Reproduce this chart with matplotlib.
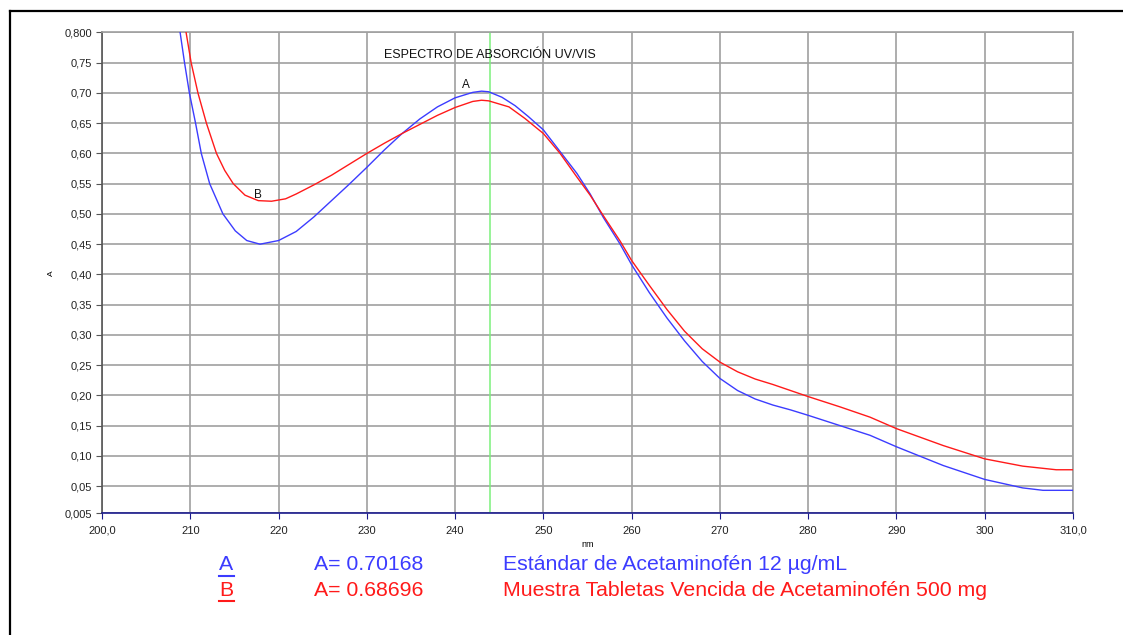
import matplotlib
matplotlib.use("Agg")
import matplotlib.pyplot as plt
from matplotlib.lines import Line2D

plt.rcParams['font.family'] = ['Liberation Sans', 'DejaVu Sans']

# ---- data ----
nm_a = [208.5, 208.8, 209.35, 209.9, 210.6, 211.25, 212.2, 213.7, 215.1, 216.4, 217.9,
        220.0, 222.0, 224.0, 226.0, 228.0, 230.0, 232.0, 234.0, 236.0, 238.0, 240.0,
        242.0, 243.0, 243.8, 245.3, 246.8, 248.3, 250.0, 251.9, 253.8, 255.3, 256.8,
        258.7, 260.0, 262.0, 264.0, 266.0, 268.0, 270.0, 272.0, 274.0, 276.0, 278.0,
        280.0, 283.6, 287.0, 290.0, 295.3, 300.0, 304.3, 306.6, 310.0]
abs_a = [0.83, 0.805, 0.75, 0.70, 0.65, 0.60, 0.55, 0.50, 0.472, 0.456, 0.450,
         0.456, 0.471, 0.495, 0.522, 0.549, 0.577, 0.606, 0.633, 0.657, 0.677, 0.692,
         0.701, 0.703, 0.702, 0.693, 0.679, 0.661, 0.639, 0.603, 0.567, 0.533, 0.494,
         0.450, 0.416, 0.370, 0.328, 0.290, 0.256, 0.228, 0.208, 0.194, 0.184, 0.176,
         0.167, 0.150, 0.134, 0.115, 0.084, 0.061, 0.047, 0.043, 0.043]

nm_b = [209.2, 209.47, 210.1, 210.87, 211.83, 212.97, 213.9, 214.87, 216.2, 217.7, 219.2,
        220.8, 222.0, 224.0, 226.0, 228.0, 230.0, 232.0, 234.0, 236.0, 238.0, 240.0,
        242.0, 243.0, 243.8, 246.1, 247.9, 250.0, 251.9, 253.8, 255.3, 256.8, 258.7,
        260.0, 262.0, 264.0, 266.0, 268.0, 270.0, 272.0, 274.0, 276.0, 278.0, 280.0,
        283.6, 287.0, 290.0, 295.3, 300.0, 304.3, 308.1, 310.0]
abs_b = [0.83, 0.805, 0.75, 0.70, 0.65, 0.60, 0.572, 0.55, 0.531, 0.522, 0.521,
         0.525, 0.533, 0.548, 0.564, 0.582, 0.600, 0.617, 0.633, 0.648, 0.663, 0.676,
         0.686, 0.688, 0.687, 0.677, 0.658, 0.633, 0.600, 0.561, 0.531, 0.497, 0.455,
         0.423, 0.382, 0.342, 0.306, 0.277, 0.255, 0.239, 0.227, 0.218, 0.208, 0.198,
         0.181, 0.164, 0.145, 0.117, 0.095, 0.083, 0.077, 0.077]

marker_nm = 244.0

x_ticks = [200, 210, 220, 230, 240, 250, 260, 270, 280, 290, 300, 310]
x_labels = ["200,0", "210", "220", "230", "240", "250", "260", "270", "280", "290", "300", "310,0"]
y_ticks = [0.005, 0.05, 0.10, 0.15, 0.20, 0.25, 0.30, 0.35, 0.40, 0.45, 0.50, 0.55,
           0.60, 0.65, 0.70, 0.75, 0.80]
y_labels = ["0,005", "0,05", "0,10", "0,15", "0,20", "0,25", "0,30", "0,35", "0,40", "0,45",
            "0,50", "0,55", "0,60", "0,65", "0,70", "0,75", "0,800"]

title = "ESPECTRO DE ABSORCIÓN UV/VIS"
legend_keys = ["A", "B"]
legend_values = ["A= 0.70168", "A= 0.68696"]
legend_desc = ["Estándar de Acetaminofén 12 µg/mL",
               "Muestra Tabletas Vencida de Acetaminofén 500 mg"]

BLUE = "#3c3cff"
RED = "#ff1a1a"
GRID = "#a0a0a0"

W, H = 1123, 635
fig = plt.figure(figsize=(W / 100, H / 100), dpi=100)
ax = fig.add_axes([102 / W, 1 - 513.3 / H, (1073 - 102) / W, (513.3 - 32.5) / H])

ax.set_xlim(200, 310)
ax.set_ylim(0.005, 0.80)
ax.set_xticks(x_ticks)
ax.set_xticklabels(x_labels)
ax.set_yticks(y_ticks)
ax.set_yticklabels(y_labels)
ax.grid(True, color=GRID, linewidth=1.2)
ax.set_axisbelow(True)

ax.tick_params(axis='both', labelsize=8, length=4, width=0.8, pad=3, colors="#222222")
ax.tick_params(axis='x', color="#1a1a8c", pad=5)
ax.tick_params(axis='y', color="#555555")

for side in ("top", "right"):
    ax.spines[side].set_color(GRID)
    ax.spines[side].set_linewidth(1.2)
ax.spines["left"].set_color("#555555")
ax.spines["left"].set_linewidth(1.2)
ax.spines["bottom"].set_color("#1a1a8c")
ax.spines["bottom"].set_linewidth(1.2)

ax.axvline(marker_nm, color="#7cf07c", linewidth=1.1, zorder=2)
ax.plot(nm_a, abs_a, color=BLUE, linewidth=1.0, zorder=3, clip_on=True)
ax.plot(nm_b, abs_b, color=RED, linewidth=1.0, zorder=3, clip_on=True)

ax.text(241.2, 0.713, "A", fontsize=8.5, ha="center", va="center", color="#111111")
ax.text(217.7, 0.532, "B", fontsize=8.5, ha="center", va="center", color="#111111")
ax.text(243.9, 0.762, title, fontsize=9, ha="center", va="center", color="#111111")

ax.set_xlabel("nm", fontsize=6.5, labelpad=3)
ax.set_ylabel("A", fontsize=6, rotation=90, labelpad=7)

# frame
fig.add_artist(Line2D([10 / W, 1.0], [1 - 11 / H, 1 - 11 / H], transform=fig.transFigure,
                      color="black", linewidth=1.6))
fig.add_artist(Line2D([10 / W, 10 / W], [1 - 11 / H, 0.0], transform=fig.transFigure,
                      color="black", linewidth=1.6))

# legend rows
rows_y = [565, 590]
cols = [BLUE, RED]
for i in range(2):
    yy = 1 - rows_y[i] / H
    fig.text(226 / W, yy, legend_keys[i], fontsize=15.3, color=cols[i], ha="center", va="center")
    fig.add_artist(Line2D([219 / W, 234 / W], [1 - (rows_y[i] + 10.5) / H] * 2,
                          transform=fig.transFigure, color=cols[i], linewidth=1.5))
    fig.text(314 / W, yy, legend_values[i], fontsize=15.3, color=cols[i], ha="left", va="center")
    fig.text(503 / W, yy, legend_desc[i], fontsize=15.3, color=cols[i], ha="left", va="center")

fig.savefig("out.png", dpi=100)
